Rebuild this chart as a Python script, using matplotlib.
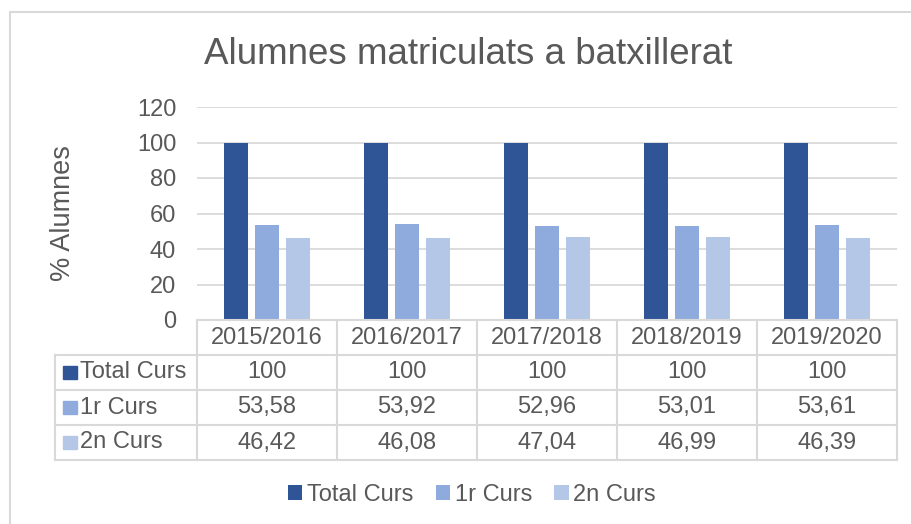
import matplotlib.pyplot as plt
import numpy as np
from matplotlib.patches import Rectangle

plt.rcParams['font.family'] = ['Liberation Sans', 'DejaVu Sans']

cursos = ['2015/2016', '2016/2017', '2017/2018', '2018/2019', '2019/2020']
series = ['Total Curs', '1r Curs', '2n Curs']
total_curs = [100, 100, 100, 100, 100]
primer_curs = [53.58, 53.92, 52.96, 53.01, 53.61]
segon_curs = [46.42, 46.08, 47.04, 46.99, 46.39]
colors = ['#2F5597', '#8FAADC', '#B4C7E7']

text_col = '#595959'
line_col = '#D9D9D9'
W, H = 912, 524
fs = 17

fig = plt.figure(figsize=(W / 100, H / 100), dpi=100)

# marc exterior
fig.patches.append(Rectangle((10 / W, 1 - 540 / H), 910 / W, 528 / H, transform=fig.transFigure,
                             fill=False, edgecolor=line_col, linewidth=1.5))

ax = fig.add_axes([197 / W, 1 - 320 / H, 700 / W, 213 / H])
x = np.arange(len(cursos))
values = [total_curs, primer_curs, segon_curs]
bar_w = 0.172
offs = [-0.222, 0, 0.222]
for i in range(3):
    ax.bar(x + offs[i], values[i], bar_w, color=colors[i], label=series[i], zorder=3)

ax.set_xlim(-0.5, 4.5)
ax.set_ylim(0, 120)
ax.set_yticks(range(0, 121, 20))
ax.yaxis.grid(True, color=line_col, linewidth=1.3, zorder=0)
ax.set_xticks([])
for s in ax.spines.values():
    s.set_visible(False)
ax.tick_params(axis='y', length=0, labelsize=fs, labelcolor=text_col, pad=15)

fig.text(63 / W, 1 - 213 / H, '% Alumnes', rotation=90, ha='center', va='center',
         fontsize=19.5, color=text_col)

# taula de dades
tab = fig.add_axes([55 / W, 1 - 460 / H, 842 / W, 140 / H])
x0 = -0.5 - 142 / 140
tab.set_xlim(x0, 4.5)
tab.set_ylim(4, 0)
tab.axis('off')
lw = 1.5
tab.plot([-0.5, 4.5], [0, 0], color=line_col, lw=lw, clip_on=False)
for r in range(1, 5):
    tab.plot([x0, 4.5], [r, r], color=line_col, lw=lw, clip_on=False)
tab.plot([x0, x0], [1, 4], color=line_col, lw=lw, clip_on=False)
for c in range(6):
    tab.plot([c - 0.5, c - 0.5], [0, 4], color=line_col, lw=lw, clip_on=False)

for c, curs in enumerate(cursos):
    tab.text(c, 0.5, curs, ha='center', va='center', fontsize=fs, color=text_col)

def fmt(v):
    if float(v).is_integer():
        return str(int(v))
    return f'{v:.2f}'.replace('.', ',')

for r in range(3):
    tab.add_patch(Rectangle((x0 + 0.06, r + 1.5 - 0.18), 0.095, 0.36, color=colors[r], clip_on=False))
    tab.text(x0 + 0.18, r + 1.5, series[r], ha='left', va='center', fontsize=fs, color=text_col)
    for c in range(len(cursos)):
        tab.text(c, r + 1.5, fmt(values[r][c]), ha='center', va='center', fontsize=fs, color=text_col)

fig.text(468 / W, 1 - 54 / H, 'Alumnes matriculats a batxillerat', ha='center', va='center',
         fontsize=26.5, color=text_col)

leg = fig.legend(loc='center', bbox_to_anchor=(472 / W, 1 - 495 / H), ncol=3, frameon=False,
                 fontsize=fs, handlelength=0.6, handleheight=0.6, handletextpad=0.2, columnspacing=0.95)
for t in leg.get_texts():
    t.set_color(text_col)

fig.savefig('out.png', dpi=100)
